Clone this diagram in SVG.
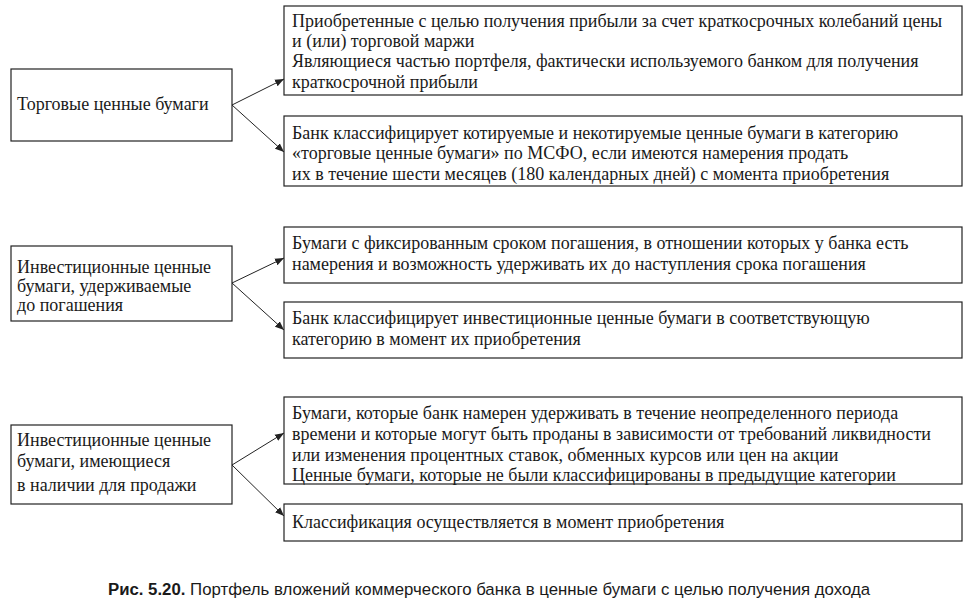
<svg xmlns="http://www.w3.org/2000/svg" width="970" height="607" viewBox="0 0 970 607">
<defs><marker id="ah" viewBox="0 0 10 10" refX="10" refY="5" markerWidth="9" markerHeight="9" markerUnits="userSpaceOnUse" orient="auto"><path d="M0,1 L10,5 L0,9 z" fill="#222"/></marker></defs>
<style>
rect{fill:#fff;stroke:#222;stroke-width:1.2}
text{font-family:'Liberation Serif','Times New Roman',serif;font-size:18px;fill:#1a1a1a}
.c line{stroke:#222;stroke-width:1;marker-end:url(#ah)}
text.cap{font-family:'Liberation Sans',Arial,sans-serif;font-size:16.8px}
</style>
<rect x="0" y="0" width="970" height="607" style="fill:#fff;stroke:none"/>
<g id="l1"><rect x="11" y="69" width="221" height="72"/><text x="17" y="110">Торговые ценные бумаги</text></g>
<g id="l2"><rect x="11" y="246" width="221" height="75"/><text x="17" y="273">Инвестиционные ценные</text><text x="17" y="292">бумаги, удерживаемые</text><text x="17" y="311">до погашения</text></g>
<g id="l3"><rect x="11" y="425" width="221" height="79"/><text x="17" y="446">Инвестиционные ценные</text><text x="17" y="467">бумаги, имеющиеся</text><text x="17" y="491">в наличии для продажи</text></g>
<g id="r1"><rect x="284" y="6" width="678" height="89"/><text x="292" y="27">Приобретенные с целью получения прибыли за счет краткосрочных колебаний цены</text><text x="292" y="47">и (или) торговой маржи</text><text x="292" y="67">Являющиеся частью портфеля, фактически используемого банком для получения</text><text x="292" y="88">краткосрочной прибыли</text></g>
<g id="r2"><rect x="284" y="116" width="678" height="70"/><text x="292" y="139">Банк классифицирует котируемые и некотируемые ценные бумаги в категорию</text><text x="292" y="159">«торговые ценные бумаги» по МСФО, если имеются намерения продать</text><text x="292" y="180">их в течение шести месяцев (180 календарных дней) с момента приобретения</text></g>
<g id="r3"><rect x="284" y="227" width="678" height="56"/><text x="292" y="249">Бумаги с фиксированным сроком погашения, в отношении которых у банка есть</text><text x="292" y="270">намерения и возможность удерживать их до наступления срока погашения</text></g>
<g id="r4"><rect x="284" y="302" width="678" height="56"/><text x="292" y="324">Банк классифицирует инвестиционные ценные бумаги в соответствующую</text><text x="292" y="345">категорию в момент их приобретения</text></g>
<g id="r5"><rect x="284" y="397" width="678" height="87"/><text x="292" y="419">Бумаги, которые банк намерен удерживать в течение неопределенного периода</text><text x="292" y="440">времени и которые могут быть проданы в зависимости от требований ликвидности</text><text x="292" y="461">или изменения процентных ставок, обменных курсов или цен на акции</text><text x="292" y="481">Ценные бумаги, которые не были классифицированы в предыдущие категории</text></g>
<g id="r6"><rect x="284" y="504" width="678" height="37"/><text x="292" y="528">Классификация осуществляется в момент приобретения</text></g>
<g class="c" id="connectors">
<line x1="232" y1="105" x2="284" y2="79"/><line x1="232" y1="105" x2="284" y2="152"/>
<line x1="232" y1="283" x2="284" y2="258"/><line x1="232" y1="283" x2="284" y2="330"/>
<line x1="232" y1="465" x2="284" y2="433"/><line x1="232" y1="465" x2="284" y2="516"/>
</g>
<text class="cap" x="489" y="595" text-anchor="middle"><tspan font-weight="bold">Рис. 5.20.</tspan> Портфель вложений коммерческого банка в ценные бумаги с целью получения дохода</text>
</svg>
